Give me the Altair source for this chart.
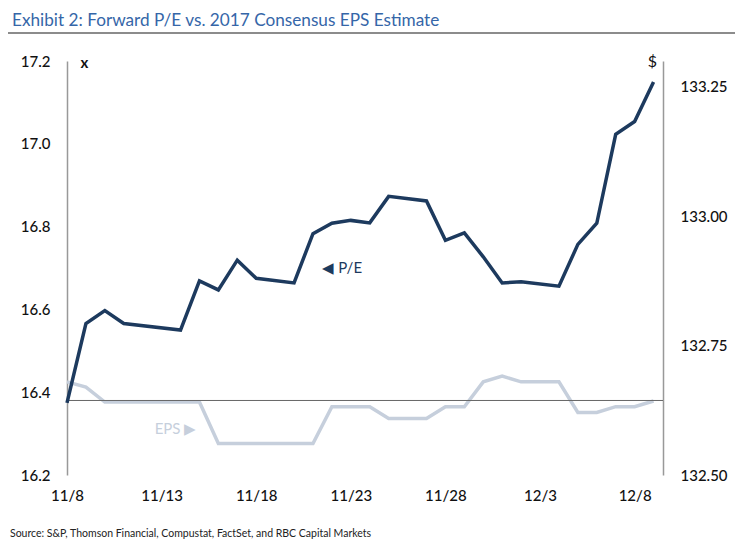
import altair as alt
import pandas as pd

# ---- data ----
dates = ["2016-11-08", "2016-11-09", "2016-11-10", "2016-11-11", "2016-11-14",
         "2016-11-15", "2016-11-16", "2016-11-17", "2016-11-18", "2016-11-20",
         "2016-11-21", "2016-11-22", "2016-11-23", "2016-11-24", "2016-11-25",
         "2016-11-27", "2016-11-28", "2016-11-29", "2016-11-30", "2016-12-01",
         "2016-12-02", "2016-12-04", "2016-12-05", "2016-12-06", "2016-12-07",
         "2016-12-08", "2016-12-09"]
pe = [16.374, 16.566, 16.597, 16.566, 16.550, 16.669, 16.647, 16.719, 16.675,
      16.664, 16.783, 16.808, 16.815, 16.809, 16.873, 16.862, 16.767, 16.785,
      16.727, 16.664, 16.667, 16.656, 16.757, 16.808, 17.023, 17.054, 17.149]
eps = [132.680, 132.670, 132.641, 132.641, 132.641, 132.641, 132.561, 132.561,
       132.561, 132.561, 132.561, 132.632, 132.632, 132.632, 132.609, 132.609,
       132.632, 132.632, 132.680, 132.691, 132.680, 132.680, 132.621, 132.621,
       132.632, 132.632, 132.643]
baseline_pe = 16.38
pe_ticks = [16.2, 16.4, 16.6, 16.8, 17.0, 17.2]
eps_ticks = [132.50, 132.75, 133.00, 133.25]
x_tick_days = [8, 13, 18, 23, 28]  # November
x_tick_days_dec = [3, 8]           # December

title_text = "Exhibit 2: Forward P/E vs. 2017 Consensus EPS Estimate"
source_text = "Source: S&P, Thomson Financial, Compustat, FactSet, and RBC Capital Markets"
pe_label = {"date": "2016-11-21T12:00:00Z", "value": 16.70, "text": "\u25c0 P/E"}
eps_label = {"date": "2016-11-14T20:00:00Z", "value": 132.588, "text": "EPS \u25b6"}

df = pd.DataFrame({"date": dates, "pe": pe, "eps": eps})

FONT = "Lato"
PE_COLOR = "#1d3a5e"
EPS_COLOR = "#c6cfdc"

x_values = ([alt.DateTime(year=2016, month=11, date=d, utc=True) for d in x_tick_days] +
            [alt.DateTime(year=2016, month=12, date=d, utc=True) for d in x_tick_days_dec])
x_scale = alt.Scale(type="utc", domain=[alt.DateTime(year=2016, month=11, date=8, utc=True),
                                        alt.DateTime(year=2016, month=12, date=9, hours=12, utc=True)])
x_enc = alt.X("date:T", scale=x_scale,
              axis=alt.Axis(title=None, values=x_values, format="%-m/%-d", domain=False,
                            ticks=False, grid=False, labelFont=FONT, labelFontSize=15,
                            labelColor="#111", labelPadding=13, labelFontWeight=500,
                            labelFlush=False))

pe_scale = alt.Scale(domain=[16.2, 17.2], nice=False, zero=False)
eps_scale = alt.Scale(domain=[132.5, 133.3], nice=False, zero=False)

base = alt.Chart(df)
pe_line = base.mark_line(color=PE_COLOR, strokeWidth=3.5, strokeJoin="miter").encode(
    x=x_enc,
    y=alt.Y("pe:Q", scale=pe_scale,
            axis=alt.Axis(orient="left", values=pe_ticks, format=".1f", grid=False, ticks=False,
                          domainColor="#999", domainWidth=1.5, labelFont=FONT, labelFontSize=15,
                          labelColor="#111", labelPadding=17, labelFontWeight=500,
                          title="x", titleAngle=0, titleX=13, titleY=1, titleAlign="left",
                          titleBaseline="middle", titleFont=FONT, titleFontSize=15,
                          titleFontWeight="bold", titleColor="#111")),
)
pe_rule = alt.Chart(pd.DataFrame({"v": [baseline_pe]})).mark_rule(color="#666", strokeWidth=1).encode(
    y=alt.Y("v:Q", scale=pe_scale))
pe_text = alt.Chart(pd.DataFrame([pe_label])).mark_text(
    align="left", baseline="middle", font=FONT, fontSize=15, color=PE_COLOR).encode(
    x=alt.X("date:T", scale=x_scale), y=alt.Y("value:Q", scale=pe_scale), text="text:N")

one = pd.DataFrame({"a": [0]})
title_mark = alt.Chart(one).mark_text(align="left", baseline="alphabetic", font=FONT, fontSize=17.2,
                                      color="#3566a8", text=title_text).encode(
    x=alt.value(-55), y=alt.value(-35))
title_rule = alt.Chart(one).mark_rule(color="#666", strokeWidth=1.5).encode(
    x=alt.value(-59), x2=alt.value(668), y=alt.value(-28))
source_mark = alt.Chart(one).mark_text(align="left", baseline="middle", font=FONT, fontSize=10.5,
                                       color="#222", text=source_text).encode(
    x=alt.value(-57), y=alt.value(473))
source_rule = alt.Chart(one).mark_rule(color="#777", strokeWidth=2).encode(
    x=alt.value(-59), x2=alt.value(667), y=alt.value(486))

eps_line = base.mark_line(color=EPS_COLOR, strokeWidth=3.5, strokeJoin="miter").encode(
    x=x_enc,
    y=alt.Y("eps:Q", scale=eps_scale,
            axis=alt.Axis(orient="right", values=eps_ticks, format=".2f", grid=False, ticks=False,
                          domainColor="#999", domainWidth=1.5, labelFont=FONT, labelFontSize=15,
                          labelColor="#111", labelPadding=17, labelFontWeight=500,
                          title="$", titleAngle=0, titleX=-11, titleY=0, titleAlign="center",
                          titleBaseline="middle", titleFont=FONT, titleFontSize=16,
                          titleFontWeight="normal", titleColor="#111")),
)
eps_text = alt.Chart(pd.DataFrame([eps_label])).mark_text(
    align="right", baseline="middle", font=FONT, fontSize=15, color=EPS_COLOR).encode(
    x=alt.X("date:T", scale=x_scale), y=alt.Y("value:Q", scale=eps_scale), text="text:N")

left = alt.layer(pe_rule, pe_line, pe_text, title_mark, title_rule, source_mark, source_rule)
right = alt.layer(eps_line, eps_text)

chart = alt.layer(right, left).resolve_scale(y="independent").properties(
    width=596, height=414,
    autosize=alt.AutoSizeParams(type="none"),
    padding={"left": 59, "top": 53, "right": 73, "bottom": 69},
).configure_view(stroke=None)

chart.save("out.html", embed_options={"renderer": "svg", "actions": False})
